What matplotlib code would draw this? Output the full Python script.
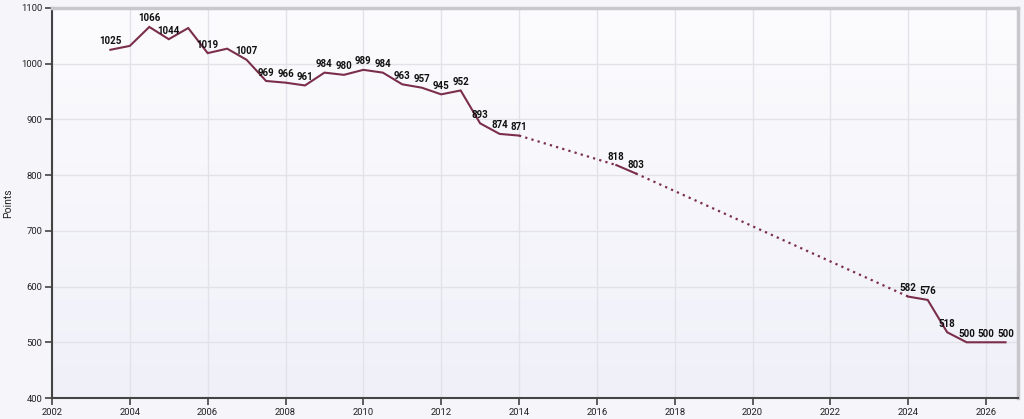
import numpy as np
import matplotlib
matplotlib.use("Agg")
import matplotlib.pyplot as plt
from matplotlib.colors import LinearSegmentedColormap

years = [2003.5, 2004, 2004.5, 2005, 2005.5, 2006, 2006.5, 2007, 2007.5, 2008,
         2008.5, 2009, 2009.5, 2010, 2010.5, 2011, 2011.5, 2012, 2012.5, 2013,
         2013.5, 2014, 2016.5, 2017, 2024, 2024.5, 2025, 2025.5, 2026, 2026.5]
points = [1025, 1032, 1066, 1044, 1064, 1019, 1027, 1007, 969, 966,
          961, 984, 980, 989, 984, 963, 957, 945, 952, 893,
          874, 871, 818, 803, 582, 576, 518, 500, 500, 500]
show_label = [True, False, True, True, False, True, False, True, True, True,
              True, True, True, True, True, True, True, True, True, True,
              True, True, True, True, True, True, True, True, True, True]
x_ticks = list(range(2002, 2027, 2))
y_ticks = list(range(400, 1101, 100))

line_color = "#7b2e4a"
font = ["Roboto", "DejaVu Sans"]

fig = plt.figure(figsize=(10.24, 4.19), dpi=100, facecolor="#f6f6fa")
ax = fig.add_axes([52 / 1024, 1 - 398 / 419, (1018 - 52) / 1024, (398 - 8) / 419])

# background gradient
cmap = LinearSegmentedColormap.from_list("bg", ["#fcfcfe", "#f0f0f9"])
grad = np.linspace(0, 1, 256).reshape(-1, 1)
ax.imshow(grad, aspect="auto", cmap=cmap, extent=[0, 1, 0, 1],
          transform=ax.transAxes, zorder=0)

# split into solid segments, connect gaps with dotted lines
segments = []
start = 0
for i in range(1, len(years)):
    if years[i] - years[i - 1] > 0.51:
        segments.append((start, i))
        start = i
segments.append((start, len(years)))

for s, e in segments:
    ax.plot(years[s:e], points[s:e], color=line_color, lw=1.5, zorder=3,
            solid_joinstyle="miter")
for (s1, e1), (s2, e2) in zip(segments[:-1], segments[1:]):
    ax.plot([years[e1 - 1], years[s2]], [points[e1 - 1], points[s2]],
            color=line_color, lw=1.6, linestyle=(0, (1.0, 1.9)),
            dash_capstyle="butt", zorder=3)

for x, y, show in zip(years, points, show_label):
    if show:
        ax.annotate(str(y), (x, y), xytext=(0, 2.5), textcoords="offset points",
                    ha="center", va="bottom", fontsize=7, fontweight="bold",
                    family=font, color="#111111", zorder=4)

ax.set_xlim(2002, 2026.82)
ax.set_ylim(400, 1100)
ax.set_xticks(x_ticks)
ax.set_yticks(y_ticks)
ax.set_xticklabels([str(t) for t in x_ticks], family=font)
ax.set_yticklabels([str(t) for t in y_ticks], family=font)
ax.grid(True, color="#e2e2e8", lw=1, zorder=1)
ax.set_axisbelow(True)
ax.tick_params(axis="both", labelsize=6.8, colors="#222222", length=5,
               width=1.2, direction="out", pad=2)
ax.tick_params(axis="y", color="#444444")
ax.tick_params(axis="x", color="#444444")

for side in ["left", "bottom"]:
    ax.spines[side].set_color("#444444")
    ax.spines[side].set_linewidth(1.5)
for side in ["top", "right"]:
    ax.spines[side].set_color("#c8c8cc")
    ax.spines[side].set_linewidth(2.5)

ax.set_ylabel("Points", fontsize=7.5, color="#222222", family=font)
ax.yaxis.set_label_coords((13 - 52) / 966, 0.5)

fig.savefig("out.png", dpi=100, facecolor=fig.get_facecolor())
